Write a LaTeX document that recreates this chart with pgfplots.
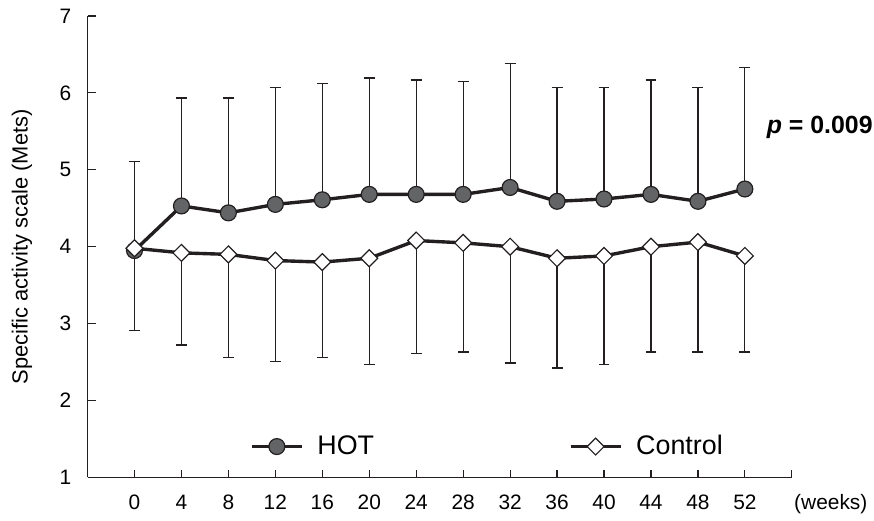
\documentclass[border=0pt]{standalone}
\usepackage{fontspec}
\setmainfont{Liberation Sans}
\usepackage{pgfplots}
\pgfplotsset{compat=1.18}
\definecolor{ink}{HTML}{231F20}
\definecolor{dotgray}{HTML}{636466}

\pgfplotstableread{
x y e
0 3.95 1.16
1 4.53 1.40
2 4.44 1.49
3 4.55 1.52
4 4.61 1.51
5 4.68 1.51
6 4.68 1.49
7 4.68 1.47
8 4.77 1.61
9 4.59 1.48
10 4.62 1.45
11 4.68 1.49
12 4.59 1.48
13 4.75 1.58
}\hot

\pgfplotstableread{
x y e
0 3.98 1.07
1 3.92 1.20
2 3.90 1.34
3 3.82 1.31
4 3.80 1.24
5 3.85 1.38
6 4.08 1.47
7 4.05 1.42
8 4.00 1.51
9 3.85 1.43
10 3.88 1.41
11 4.00 1.37
12 4.06 1.43
13 3.88 1.25
}\control

\begin{document}
\begin{tikzpicture}
\begin{axis}[
  scale only axis, width=354pt, height=232pt,
  xmin=-1, xmax=14, ymin=1, ymax=7,
  axis lines*=left,
  axis line style={ink, line width=0.6pt, -},
  xtick={0,...,14},
  xticklabels={0,4,8,12,16,20,24,28,32,36,40,44,48,52,{}},
  ytick={1,...,7},
  tick style={ink, line width=0.6pt},
  major tick length=4pt,
  tick align=inside,
  /pgf/number format/assume math mode=true,
  ticklabel style={font=\fontsize{10.5}{12}\selectfont},
  xticklabel style={anchor=base, yshift=-16pt},
  yticklabel style={anchor=east, inner sep=0pt, xshift=-8pt},
  ylabel={Specific activity scale (Mets)},
  ylabel style={font=\fontsize{11}{13}\selectfont, at={(axis description cs:-0.093,0.5)}, anchor=center},
  legend columns=2,
  legend style={draw=none, fill=none, at={(axis description cs:0.222,0.067)}, anchor=west,
    font=\fontsize{13.5}{16}\selectfont,
    /tikz/every odd column/.append style={column sep=5pt},
    /tikz/every even column/.append style={column sep=96pt}},
  legend image code/.code={\draw[mark repeat=2,mark phase=2] plot coordinates {(0cm,0cm)(0.44cm,0cm)(0.88cm,0cm)};},
  clip=false,
]
\addplot[ink, line width=1.7pt, mark=*, mark size=4pt,
  mark options={fill=dotgray, draw=ink, line width=0.6pt},
  error bars/.cd, y dir=plus, y explicit,
  error bar style={ink, line width=0.6pt},
  error mark options={ink, line width=0.8pt, mark size=2.75pt, rotate=90}]
  table[x=x, y=y, y error=e] {\hot};
\addlegendentry{HOT}
\addplot[ink, line width=1.7pt, mark=square*, mark size=3pt,
  mark options={fill=white, draw=ink, line width=0.6pt, rotate=45},
  error bars/.cd, y dir=minus, y explicit,
  error bar style={ink, line width=0.6pt},
  error mark options={ink, line width=0.8pt, mark size=2.75pt, rotate=90}]
  table[x=x, y=y, y error=e] {\control};
\addlegendentry{Control}
\node[anchor=west, inner sep=0pt, font=\fontsize{12.5}{14}\selectfont\bfseries] at (axis cs:13.46,5.55) {\textit{p} = 0.009};
\node[anchor=base, font=\fontsize{10.5}{12}\selectfont] at (axis cs:14.83,1) [yshift=-16pt] {(weeks)};
\path (rel axis cs:-0.1243,-0.0776) rectangle (rel axis cs:1.1102,1.0345);
\end{axis}
\end{tikzpicture}
\end{document}
